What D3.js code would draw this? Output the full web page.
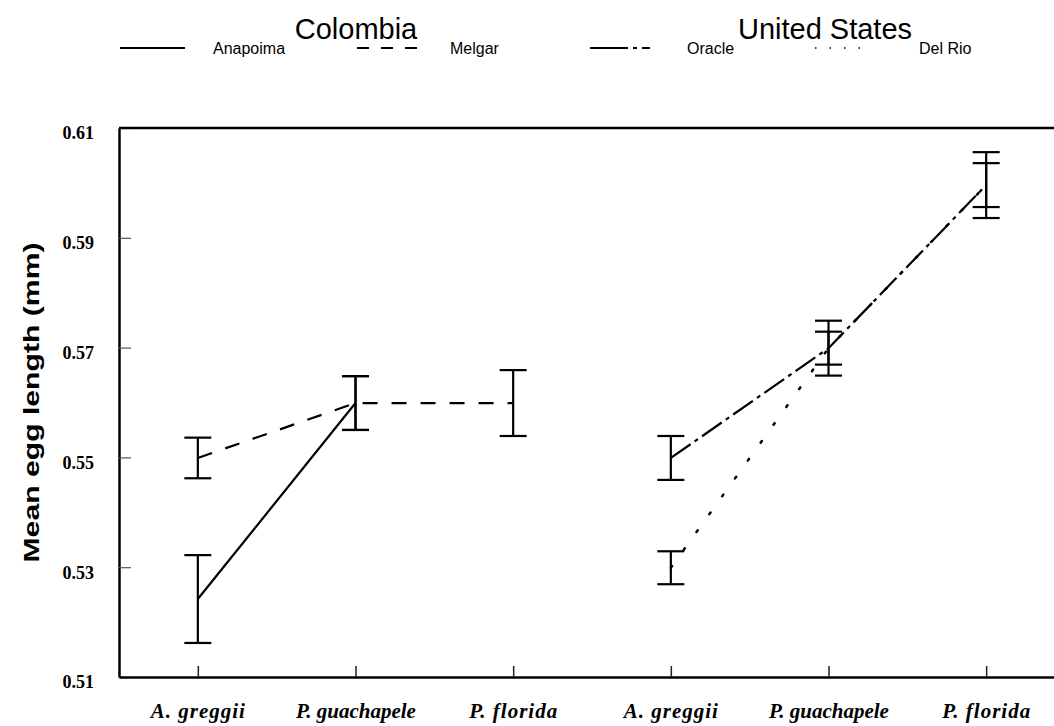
<!DOCTYPE html>
<html>
<head>
<meta charset="utf-8">
<script src="https://cdn.jsdelivr.net/npm/d3@7"></script>
<style>
  body { margin: 0; background: #fff; }
  svg { display: block; }
</style>
</head>
<body>
<div id="chart"></div>
<script>
const species = ["A. greggii", "P. guachapele", "P. florida"];
const countries = ["Colombia", "United States"];
const populations = ["Anapoima", "Melgar", "Oracle", "Del Rio"];
const popCountry = ["Colombia", "Colombia", "United States", "United States"];

// means and error (half bar) per species, null = not measured
const anapoimaMean = [0.5242, 0.5599, null];
const anapoimaErr = [0.008, 0.0049, null];
const melgarMean = [0.5499, 0.5599, 0.5599];
const melgarErr = [0.0037, 0.0049, 0.006];
const oracleMean = [0.5499, 0.5699, 0.5996];
const oracleErr = [0.004, 0.005, 0.006];
const delRioMean = [0.5299, 0.5699, 0.5996];
const delRioErr = [0.003, 0.003, 0.004];

const yTicks = [0.51, 0.53, 0.55, 0.57, 0.59, 0.61];

const means = [anapoimaMean, melgarMean, oracleMean, delRioMean];
const errs = [anapoimaErr, melgarErr, oracleErr, delRioErr];
const dashes = [null, "15,14", "24,5,4,5", "2,20"];
const legendDashes = [null, "12,12", "38,5,4,5,8", "1.5,13"];

const width = 1054;
const height = 726;
const margin = { top: 128, right: 0, bottom: 49, left: 119 };

const svg = d3
  .select("#chart")
  .append("svg")
  .attr("width", width)
  .attr("height", height);

const keys = [];
countries.forEach((c) => species.forEach((s) => keys.push(c + "|" + s)));

const x = d3
  .scalePoint()
  .domain(keys)
  .range([margin.left, 1065])
  .padding(0.5);

const y = d3
  .scaleLinear()
  .domain([0.51, 0.61])
  .range([height - margin.bottom, margin.top]);

// y axis
const yAxis = svg
  .append("g")
  .attr("transform", `translate(${margin.left},0)`)
  .call(
    d3.axisLeft(y).tickValues(yTicks).tickFormat(d3.format(".2f"))
      .tickSize(-12).tickSizeOuter(0).tickPadding(25)
  );
yAxis.select(".domain").attr("stroke", "#000").attr("stroke-width", 2.5);
yAxis.selectAll(".tick line").attr("stroke", "#555").attr("stroke-width", 1.2);
yAxis
  .selectAll(".tick text")
  .attr("fill", "#000")
  .attr("dy", "0.6em")
  .style("font-family", "'Liberation Serif', 'Times New Roman', serif")
  .style("font-weight", "bold")
  .style("font-size", "18px");

// x axis
const xAxis = svg
  .append("g")
  .attr("transform", `translate(0,${y(0.51)})`)
  .call(
    d3.axisBottom(x).tickFormat((d) => d.split("|")[1])
      .tickSize(-11).tickSizeOuter(0).tickPadding(26)
  );
xAxis.select(".domain").attr("stroke", "#000").attr("stroke-width", 2.5);
xAxis.selectAll(".tick line").attr("stroke", "#222").attr("stroke-width", 1.5);
xAxis
  .selectAll(".tick text")
  .attr("fill", "#000")
  .style("font-family", "'Liberation Serif', 'Times New Roman', serif")
  .style("font-weight", "bold")
  .style("font-style", "italic")
  .style("font-size", "21px")
  .style("letter-spacing", (d) => (d.includes("guach") ? "0px" : "1px"));

// top frame line
svg
  .append("line")
  .attr("x1", margin.left)
  .attr("x2", width)
  .attr("y1", y(0.61))
  .attr("y2", y(0.61))
  .attr("stroke", "#000")
  .attr("stroke-width", 2.5);

// y label
svg
  .append("text")
  .attr("transform", `translate(39,${y(0.56)}) rotate(-90)`)
  .attr("text-anchor", "middle")
  .attr("textLength", 320)
  .attr("lengthAdjust", "spacingAndGlyphs")
  .style("font-family", "'Liberation Sans', Arial, sans-serif")
  .style("font-weight", "bold")
  .style("font-size", "22px")
  .text("Mean egg length (mm)");

// lines
const line = d3
  .line()
  .defined((d) => d.mean != null)
  .x((d) => x(d.key))
  .y((d) => y(d.mean));

populations.forEach((p, i) => {
  const rows = species.map((s, j) => ({
    key: popCountry[i] + "|" + s,
    mean: means[i][j],
    err: errs[i][j],
  }));

  svg
    .append("path")
    .datum(rows)
    .attr("fill", "none")
    .attr("stroke", "#000")
    .attr("stroke-width", i == 3 ? 2.5 : 2.2)
    .attr("stroke-dasharray", dashes[i])
    .attr("stroke-linecap", i == 3 ? "round" : "butt")
    .attr("d", line);

  const bars = svg
    .append("g")
    .selectAll("g")
    .data(rows.filter((d) => d.mean != null))
    .enter()
    .append("g")
    .attr("stroke", "#000")
    .attr("stroke-width", 2.2);

  bars
    .append("line")
    .attr("x1", (d) => x(d.key))
    .attr("x2", (d) => x(d.key))
    .attr("y1", (d) => y(d.mean - d.err))
    .attr("y2", (d) => y(d.mean + d.err));

  [-1, 1].forEach((sgn) => {
    bars
      .append("line")
      .attr("x1", (d) => x(d.key) - 13.5)
      .attr("x2", (d) => x(d.key) + 13.5)
      .attr("y1", (d) => y(d.mean + sgn * d.err))
      .attr("y2", (d) => y(d.mean + sgn * d.err));
  });
});

// country titles
const titleX = [356, 825];
countries.forEach((c, i) => {
  svg
    .append("text")
    .attr("x", titleX[i])
    .attr("y", 39)
    .attr("text-anchor", "middle")
    .style("font-family", "'Liberation Sans', Arial, sans-serif")
    .style("font-size", "29px")
    .text(c);
});

// legend
const legendX = [120, 357, 590, 815];
const legend = svg
  .append("g")
  .selectAll("g")
  .data(populations)
  .enter()
  .append("g")
  .attr("transform", (d, i) => `translate(${legendX[i]},48)`);

legend
  .append("line")
  .attr("x1", 0)
  .attr("x2", (d, i) => (i == 3 ? 45 : 65))
  .attr("stroke", "#000")
  .attr("stroke-width", (d, i) => (i == 3 ? 1.5 : 2.2))
  .attr("stroke-dasharray", (d, i) => legendDashes[i]);

legend
  .append("text")
  .attr("x", (d, i) => [93, 93, 97, 104][i])
  .attr("y", 6)
  .style("font-family", "'Liberation Sans', Arial, sans-serif")
  .style("font-size", "16px")
  .text((d) => d);
</script>
</body>
</html>
